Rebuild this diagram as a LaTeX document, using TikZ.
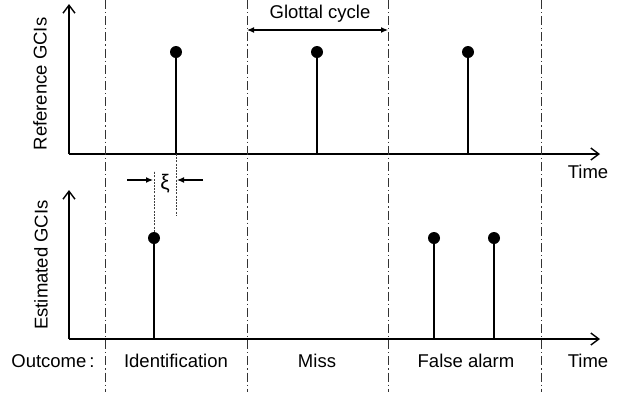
\documentclass[tikz,border=0pt]{standalone}
\usepackage{fontspec}
\setmainfont{Liberation Sans}
\usetikzlibrary{arrows.meta}
\begin{document}
\begin{tikzpicture}[x=1pt,y=-1pt,
  lbl/.style={font=\fontsize{18.5}{22}\selectfont, inner sep=0pt},
  axis/.style={line width=1.8pt, -{Straight Barb[length=8pt,width=12pt,line width=1.4pt]}},
  sep/.style={line width=1pt, draw=black!80, dash pattern=on 9pt off 3pt on 1.2pt off 3pt},
  stem/.style={line width=1.2pt},
  dot/.style={circle, fill=black, minimum size=12pt, inner sep=0pt},
  guide/.style={line width=0.9pt, draw=black!75, dash pattern=on 2pt off 1.2pt},
  dim/.style={line width=1.2pt, -{Latex[length=7pt,width=6pt]}},
  ddim/.style={line width=1.2pt, {Latex[length=7pt,width=6pt]}-{Latex[length=7pt,width=6pt]}}]
\useasboundingbox (0,0) rectangle (625,392);
% axes
\coordinate (o1) at (69,154); \coordinate (t1) at (69,4); \coordinate (r1) at (600,154);
\coordinate (o2) at (69,339); \coordinate (t2) at (69,190); \coordinate (r2) at (600,339);
\draw[axis] (o1) -- (t1);
\draw[axis] (o1) -- (r1);
\draw[axis] (o2) -- (t2);
\draw[axis] (o2) -- (r2);
% separators
\foreach \n/\x in {a/105,b/247,c/388,d/541} {
  \coordinate (s\n t) at (\x,0); \coordinate (s\n b) at (\x,392);
  \draw[sep] (s\n t) -- (s\n b);
}
% reference stems
\foreach \n/\x in {1/176,2/317,3/468} {
  \node[dot] (rd\n) at (\x,52) {};
  \coordinate (rb\n) at (\x,154);
  \draw[stem] (rb\n) -- (rd\n.center);
}
% estimated stems
\foreach \n/\x in {1/154,2/434,3/494} {
  \node[dot] (ed\n) at (\x,238) {};
  \coordinate (eb\n) at (\x,339);
  \draw[stem] (eb\n) -- (ed\n.center);
}
% xi guides
\coordinate (g1t) at (154,171);
\coordinate (g2b) at (176,215);
\draw[guide] (ed1.north) -- (g1t);
\draw[guide] (rb1) -- (g2b);
\coordinate (xa1) at (127,180); \coordinate (xa2) at (153,180);
\coordinate (xb1) at (203,180); \coordinate (xb2) at (177,180);
\draw[dim] (xa1) -- (xa2);
\draw[dim] (xb1) -- (xb2);
\node[lbl, font=\fontsize{21}{24}\selectfont] (xi) at (165,184) {ξ};
% glottal cycle
\coordinate (gc1) at (247,30); \coordinate (gc2) at (388,30);
\draw[ddim] (gc1) -- (gc2);
\node[lbl] (gct) at (320,14) {Glottal cycle};
% labels
\node[lbl, rotate=90] (refl) at (40,84) {Reference GCIs};
\node[lbl, rotate=90] (estl) at (41,265) {Estimated GCIs};
\node[lbl] (time1) at (588,172) {Time};
\node[lbl] (time2) at (588,361) {Time};
\node[lbl] (outc) at (53,361) {Outcome\,:};
\node[lbl] (idl) at (176,361) {Identification};
\node[lbl] (miss) at (317,361) {Miss};
\node[lbl] (fa) at (466,361) {False alarm};
\end{tikzpicture}
\end{document}
